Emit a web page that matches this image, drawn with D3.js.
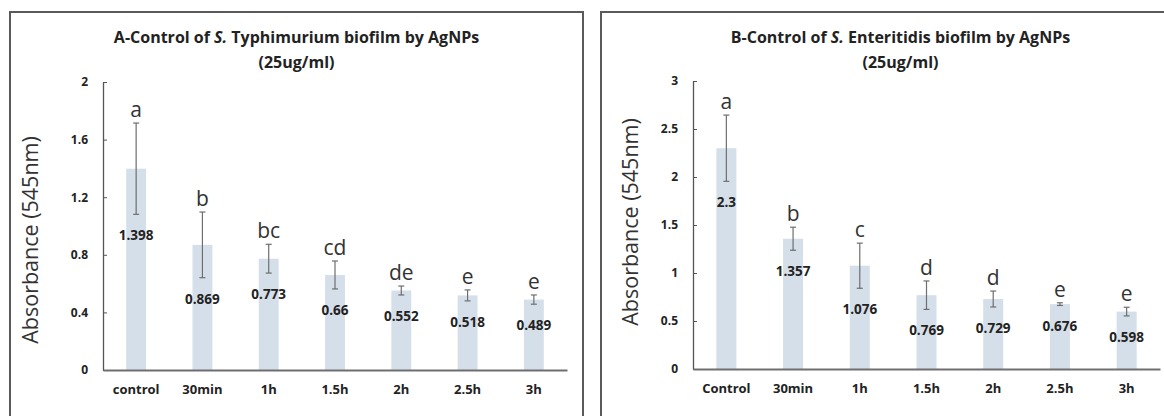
<!DOCTYPE html>
<html>
<head>
<meta charset="utf-8">
<script src="https://cdn.jsdelivr.net/npm/d3@7"></script>
<style>
  body { margin: 0; background: #fff; }
  text { font-family: "Open Sans", sans-serif; }
</style>
</head>
<body>
<div id="chart"></div>
<script>
// Panel A - S. Typhimurium
const catsA = ["control", "30min", "1h", "1.5h", "2h", "2.5h", "3h"];
const meanA = [1.398, 0.869, 0.773, 0.66, 0.552, 0.518, 0.489];
const errA = [0.317, 0.228, 0.1, 0.097, 0.031, 0.038, 0.032];
const groupA = ["a", "b", "bc", "cd", "de", "e", "e"];
const ticksA = [0, 0.4, 0.8, 1.2, 1.6, 2];

// Panel B - S. Enteritidis
const catsB = ["Control", "30min", "1h", "1.5h", "2h", "2.5h", "3h"];
const meanB = [2.3, 1.357, 1.076, 0.769, 0.729, 0.676, 0.598];
const errB = [0.345, 0.12, 0.235, 0.148, 0.083, 0.014, 0.045];
const groupB = ["a", "b", "c", "d", "d", "e", "e"];
const ticksB = [0, 0.5, 1, 1.5, 2, 2.5, 3];

const svg = d3.select("#chart").append("svg")
  .attr("width", 1164)
  .attr("height", 416);

function drawPanel(opt) {
  // frame
  svg.append("rect")
    .attr("x", opt.box[0]).attr("y", 12)
    .attr("width", opt.box[1] - opt.box[0]).attr("height", 430)
    .attr("fill", "none")
    .attr("stroke", "#5a5a5a")
    .attr("stroke-width", 2);

  // title
  const title = svg.append("text")
    .attr("x", (opt.box[0] + opt.box[1]) / 2)
    .attr("y", 43)
    .attr("text-anchor", "middle")
    .style("font-size", "16px")
    .style("font-weight", "bold")
    .attr("fill", "#222");
  title.append("tspan").text(opt.title[0]);
  title.append("tspan").style("font-style", "italic").text("S.");
  title.append("tspan").text(opt.title[1]);
  svg.append("text")
    .attr("x", (opt.box[0] + opt.box[1]) / 2)
    .attr("y", 68)
    .attr("text-anchor", "middle")
    .style("font-size", "16px")
    .style("font-weight", "bold")
    .attr("fill", "#222")
    .text("(25ug/ml)");

  const x = d3.scaleBand().domain(opt.cats).range(opt.xr).paddingInner(0.7).paddingOuter(0.35);
  const y = d3.scaleLinear().domain([0, opt.ticks[opt.ticks.length - 1]]).range(opt.yr);

  const data = opt.cats.map((c, i) => ({ cat: c, mean: opt.mean[i], err: opt.err[i], grp: opt.grp[i] }));

  // bars
  svg.append("g").selectAll("rect")
    .data(data)
    .join("rect")
    .attr("x", d => x(d.cat))
    .attr("y", d => y(d.mean))
    .attr("width", x.bandwidth())
    .attr("height", d => y(0) - y(d.mean))
    .attr("fill", "#d5dfea");

  // error bars
  const eb = svg.append("g")
    .attr("stroke", "#6e6e6e")
    .attr("stroke-width", 1.2);
  data.forEach(d => {
    const cx = x(d.cat) + x.bandwidth() / 2;
    eb.append("line")
      .attr("x1", cx).attr("x2", cx)
      .attr("y1", y(d.mean + d.err)).attr("y2", y(d.mean - d.err));
    [d.mean + d.err, d.mean - d.err].forEach(v => {
      eb.append("line")
        .attr("x1", cx - 3).attr("x2", cx + 3)
        .attr("y1", y(v)).attr("y2", y(v));
    });
  });

  // significance letters
  svg.append("g").selectAll("text")
    .data(data)
    .join("text")
    .attr("x", d => x(d.cat) + x.bandwidth() / 2)
    .attr("y", d => y(d.mean + d.err) - 6)
    .attr("text-anchor", "middle")
    .style("font-size", "21px")
    .attr("fill", "#333")
    .text(d => d.grp);

  // value labels, under the lower whisker
  svg.append("g").selectAll("text")
    .data(data)
    .join("text")
    .attr("x", d => x(d.cat) + x.bandwidth() / 2)
    .attr("y", d => y(d.mean - d.err) + 26)
    .attr("text-anchor", "middle")
    .style("font-size", "13.5px")
    .style("font-weight", "bold")
    .attr("fill", "#222")
    .text(d => d.mean);

  // y axis
  const yAxis = svg.append("g")
    .attr("transform", `translate(${opt.xr[0]},0)`)
    .call(d3.axisLeft(y).tickValues(opt.ticks).tickSizeInner(-4).tickSizeOuter(0).tickPadding(15).tickFormat(d => d));
  yAxis.select(".domain").attr("stroke", "#555").attr("stroke-width", 1.3);
  yAxis.selectAll(".tick line").attr("stroke", "#555");
  yAxis.selectAll(".tick text")
    .style("font-size", "12px")
    .style("font-weight", "bold")
    .attr("fill", "#222");

  // x axis
  const xAxis = svg.append("g")
    .attr("transform", `translate(0,${opt.yr[0]})`)
    .call(d3.axisBottom(x).tickSize(0).tickPadding(15));
  xAxis.select(".domain").attr("stroke", "#6f6f6f").attr("stroke-width", 2.2);
  xAxis.selectAll(".tick text")
    .style("font-size", "13px")
    .style("font-weight", "bold")
    .attr("fill", "#222");

  // y axis title
  svg.append("text")
    .attr("transform", `translate(${opt.ylab[0]},${opt.ylab[1]}) rotate(-90)`)
    .attr("text-anchor", "middle")
    .attr("dy", "0.35em")
    .style("font-size", "21.5px")
    .attr("fill", "#333")
    .text("Absorbance  (545nm)");
}

drawPanel({
  box: [10, 583],
  title: ["A-Control of ", " Typhimurium biofilm by AgNPs"],
  cats: catsA, mean: meanA, err: errA, grp: groupA, ticks: ticksA,
  xr: [103, 567], yr: [370, 82],
  ylab: [30, 240]
});

drawPanel({
  box: [601, 1200],
  title: ["B-Control of ", " Enteritidis biofilm by AgNPs"],
  cats: catsB, mean: meanB, err: errB, grp: groupB, ticks: ticksB,
  xr: [693, 1160], yr: [369, 81],
  ylab: [630, 222]
});
</script>
</body>
</html>
